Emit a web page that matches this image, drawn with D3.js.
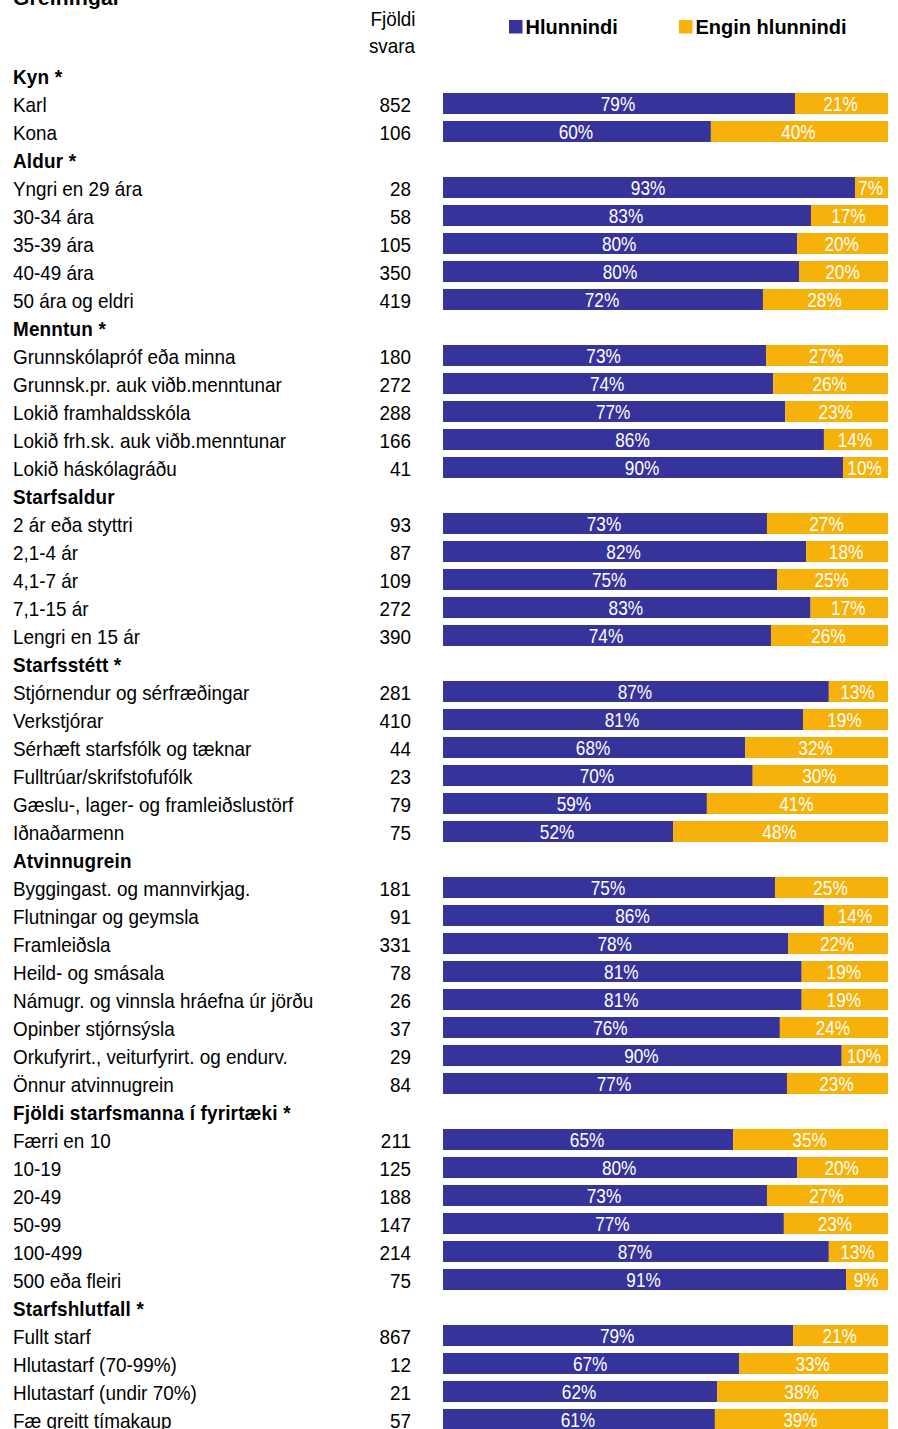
<!DOCTYPE html>
<html>
<head>
  <meta charset="utf-8">
  <title>Greiningar</title>
<style type="text/css">
body {
  margin: 0;
  background: #fff;
}

svg text {
  font-family: "Liberation Sans", Arial, sans-serif;
  font-size: 21px;
  fill: #000;
}

.head {
  font-weight: bold;
  letter-spacing: 0.2px;
}

.legend text {
  font-weight: bold;
  font-size: 20px;
}

.bar-label {
  fill: #fff !important;
}
</style>
</head>
<body>
<script src="https://d3js.org/d3.v7.min.js"></script>
<script>
var groups = ["Kyn *", "Aldur *", "Menntun *", "Starfsaldur", "Starfsstétt *",
  "Atvinnugrein", "Fjöldi starfsmanna í fyrirtæki *", "Starfshlutfall *"];
var groupSizes = [2, 5, 5, 5, 6, 8, 6, 4];

var categories = [
  "Karl", "Kona",
  "Yngri en 29 ára", "30-34 ára", "35-39 ára", "40-49 ára", "50 ára og eldri",
  "Grunnskólapróf eða minna", "Grunnsk.pr. auk viðb.menntunar", "Lokið framhaldsskóla",
  "Lokið frh.sk. auk viðb.menntunar", "Lokið háskólagráðu",
  "2 ár eða styttri", "2,1-4 ár", "4,1-7 ár", "7,1-15 ár", "Lengri en 15 ár",
  "Stjórnendur og sérfræðingar", "Verkstjórar", "Sérhæft starfsfólk og tæknar",
  "Fulltrúar/skrifstofufólk", "Gæslu-, lager- og framleiðslustörf", "Iðnaðarmenn",
  "Byggingast. og mannvirkjag.", "Flutningar og geymsla", "Framleiðsla",
  "Heild- og smásala", "Námugr. og vinnsla hráefna úr jörðu", "Opinber stjórnsýsla",
  "Orkufyrirt., veiturfyrirt. og endurv.", "Önnur atvinnugrein",
  "Færri en 10", "10-19", "20-49", "50-99", "100-499", "500 eða fleiri",
  "Fullt starf", "Hlutastarf (70-99%)", "Hlutastarf (undir 70%)", "Fæ greitt tímakaup"
];

var counts = [
  852, 106,
  28, 58, 105, 350, 419,
  180, 272, 288, 166, 41,
  93, 87, 109, 272, 390,
  281, 410, 44, 23, 79, 75,
  181, 91, 331, 78, 26, 37, 29, 84,
  211, 125, 188, 147, 214, 75,
  867, 12, 21, 57
];

// share with benefits (%), the rest is "Engin hlunnindi"
var hlunnindi = [
  79.1, 60.2,
  92.6, 82.7, 79.6, 80.0, 71.9,
  72.6, 74.2, 76.9, 85.6, 89.9,
  72.8, 81.6, 75.1, 82.6, 73.7,
  86.7, 80.9, 67.9, 69.6, 59.3, 51.7,
  74.6, 85.6, 77.6, 80.6, 80.6, 75.7, 89.6, 77.3,
  65.2, 79.6, 72.8, 76.6, 86.7, 90.6,
  78.7, 66.6, 61.6, 61.1
];

var series = ["Hlunnindi", "Engin hlunnindi"];
var colors = ["#36339a", "#f6b10a"];

// the original uses a narrow sans, so squeeze text horizontally
var narrow = 0.9;
var narrowLabel = 0.82;

function place(x, y, s) {
  return "translate(" + x + "," + y + ") scale(" + s + ",1)";
}

// flatten into rows: group headers followed by their categories
var rows = [];
var k = 0;
groups.forEach(function(g, gi) {
  rows.push({ header: true, label: g });
  for (var j = 0; j < groupSizes[gi]; j++, k++) {
    rows.push({ header: false, label: categories[k], n: counts[k], a: hlunnindi[k], b: 100 - hlunnindi[k] });
  }
});

var width = 898, height = 1429;

var svg = d3.select("body").append("svg")
  .attr("width", width)
  .attr("height", height);

var x = d3.scaleLinear().domain([0, 100]).range([443, 888]);

var y = d3.scaleBand()
  .domain(d3.range(rows.length))
  .range([61.5, 61.5 + rows.length * 28])
  .paddingInner(0.25)
  .paddingOuter(0.125);

var color = d3.scaleOrdinal().domain(series).range(colors);

// title (cut off at top in the original)
svg.append("text")
  .attr("class", "head")
  .attr("x", 13)
  .attr("y", 4.5)
  .text("Greiningar");

svg.append("text")
  .attr("transform", place(393, 26, narrow))
  .attr("text-anchor", "middle")
  .text("Fjöldi");
svg.append("text")
  .attr("transform", place(392, 53, narrow))
  .attr("text-anchor", "middle")
  .text("svara");

var legend = svg.selectAll(".legend")
    .data(series)
  .enter().append("g")
    .attr("class", "legend")
    .attr("transform", function(d, i) { return "translate(" + [509, 679][i] + ",20)"; });

legend.append("rect")
  .attr("width", 13.5)
  .attr("height", 13.5)
  .style("fill", color);

legend.append("text")
  .attr("x", 16.5)
  .attr("y", 13.5)
  .text(function(d) { return d; });

var row = svg.selectAll("g.row")
    .data(rows)
  .enter().append("g")
    .attr("class", "row")
    .attr("transform", function(d, i) { return "translate(0," + y(i) + ")"; });

var base = y.bandwidth() / 2 + 8.5;

row.append("text")
  .attr("class", function(d) { return d.header ? "head" : null; })
  .attr("transform", place(13, base, narrow))
  .text(function(d) { return d.label; });

var data = row.filter(function(d) { return !d.header; });

data.append("text")
  .attr("transform", place(411, base, narrow))
  .attr("text-anchor", "end")
  .text(function(d) { return d.n; });

data.append("rect")
  .attr("x", x(0))
  .attr("width", function(d) { return x(d.a) - x(0); })
  .attr("height", y.bandwidth())
  .style("fill", colors[0]);

data.append("rect")
  .attr("x", function(d) { return x(d.a); })
  .attr("width", function(d) { return x(100) - x(d.a); })
  .attr("height", y.bandwidth())
  .style("fill", colors[1]);

data.append("text")
  .attr("class", "bar-label")
  .attr("transform", function(d) { return place(x(d.a / 2) - 1, y.bandwidth() / 2 + 7, narrowLabel); })
  .attr("text-anchor", "middle")
  .text(function(d) { return Math.round(d.a) + "%"; });

data.append("text")
  .attr("class", "bar-label")
  .attr("transform", function(d) { return place(x(d.a + d.b / 2) - 1, y.bandwidth() / 2 + 7, narrowLabel); })
  .attr("text-anchor", "middle")
  .text(function(d) { return Math.round(d.b) + "%"; });
</script>
</body>
</html>
